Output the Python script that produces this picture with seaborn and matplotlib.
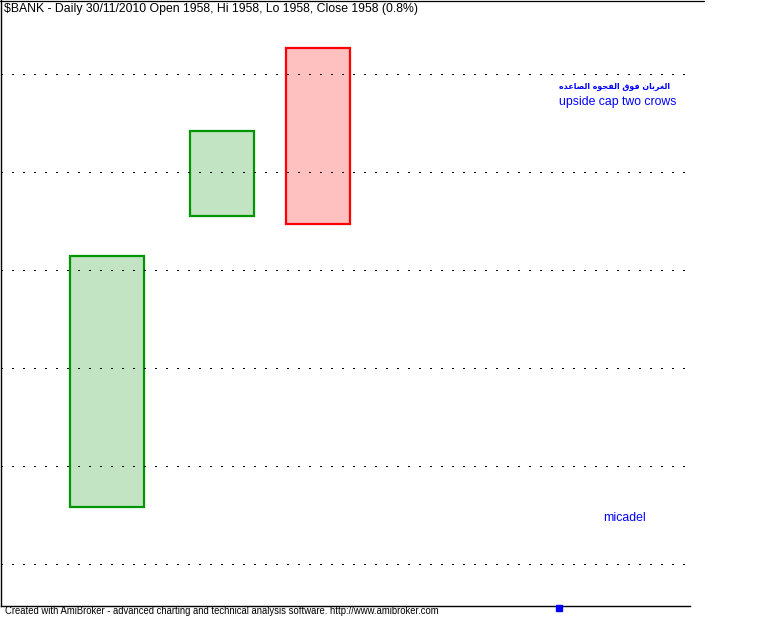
import matplotlib.pyplot as plt
import seaborn as sns
from matplotlib.lines import Line2D

# --- candle data (bar slot position, open, close) ---
bar_x = [1.105, 2.30, 3.30]
bar_open = [1905.8, 1935.5, 1952.7]
bar_close = [1931.4, 1944.2, 1934.7]
bar_width = [0.78, 0.67, 0.67]
grid_levels = [1900, 1910, 1920, 1930, 1940, 1950]
marker_x = [5.82]

title = "$BANK - Daily 30/11/2010 Open 1958, Hi 1958, Lo 1958, Close 1958 (0.8%)"
arabic_label = "الغربان فوق الفجوه الصاعده"
english_label = "upside cap two crows"
author_label = "micadel"
footer = ("Created with AmiBroker - advanced charting and technical analysis "
          "software. http://www.amibroker.com")

# matplotlib has no arabic shaping -> map letters to presentation forms
# (isolated, final, initial, medial); None = letter does not join to the left
FORMS = {
    "\u0627": ("\uFE8D", "\uFE8E", None, None),
    "\u0628": ("\uFE8F", "\uFE90", "\uFE91", "\uFE92"),
    "\u062C": ("\uFE9D", "\uFE9E", "\uFE9F", "\uFEA0"),
    "\u062F": ("\uFEA9", "\uFEAA", None, None),
    "\u0631": ("\uFEAD", "\uFEAE", None, None),
    "\u0635": ("\uFEB9", "\uFEBA", "\uFEBB", "\uFEBC"),
    "\u0639": ("\uFEC9", "\uFECA", "\uFECB", "\uFECC"),
    "\u063A": ("\uFECD", "\uFECE", "\uFECF", "\uFED0"),
    "\u0641": ("\uFED1", "\uFED2", "\uFED3", "\uFED4"),
    "\u0642": ("\uFED5", "\uFED6", "\uFED7", "\uFED8"),
    "\u0644": ("\uFEDD", "\uFEDE", "\uFEDF", "\uFEE0"),
    "\u0646": ("\uFEE5", "\uFEE6", "\uFEE7", "\uFEE8"),
    "\u0647": ("\uFEE9", "\uFEEA", "\uFEEB", "\uFEEC"),
    "\u0648": ("\uFEED", "\uFEEE", None, None),
}


def shape_arabic(s):
    out = []
    for i, ch in enumerate(s):
        if ch not in FORMS:
            out.append(ch)
            continue
        prev = s[i - 1] if i > 0 else ""
        nxt = s[i + 1] if i + 1 < len(s) else ""
        f = FORMS[ch]
        join_prev = prev in FORMS and FORMS[prev][2] is not None
        join_next = f[2] is not None and nxt in FORMS
        if join_prev and join_next:
            out.append(f[3])
        elif join_prev:
            out.append(f[1])
        elif join_next:
            out.append(f[2])
        else:
            out.append(f[0])
    return "".join(reversed(out))


sns.set_theme(style="white")
plt.rcParams["font.family"] = ["Liberation Sans", "DejaVu Sans"]

fig = plt.figure(figsize=(7.64, 6.18), dpi=100)
ax = fig.add_axes([1 / 764, 12 / 618, 689 / 764, 606 / 618])

up_edge, up_fill = "#009600", "#c2e4c2"
dn_edge, dn_fill = "#ff0000", "#ffc0c0"

for x, o, c, w in zip(bar_x, bar_open, bar_close, bar_width):
    up = c >= o
    ax.bar(x, abs(c - o), bottom=min(o, c), width=w,
           color=up_fill if up else dn_fill,
           edgecolor=up_edge if up else dn_edge,
           linewidth=1.6, zorder=2)

for lvl in grid_levels:
    ax.axhline(lvl, color="black", linewidth=0.75, antialiased=False,
               linestyle=(0, (1.4, 9.3)), zorder=3)

ax.set_xlim(0, 7.18)
ax.set_ylim(1895.7, 1957.55)
ax.set_xticks([])
ax.set_yticks([])
sns.despine(ax=ax, top=True, right=True)
for side in ["left", "bottom"]:
    ax.spines[side].set_color("black")
    ax.spines[side].set_linewidth(1.0)

ax.plot(marker_x, [1895.5], marker="s", markersize=4.5, color="#0000ff",
        linestyle="none", clip_on=False, zorder=5)

# top frame line runs a bit past the plot area
fig.add_artist(Line2D([0, 704 / 764], [1 - 0.5 / 618, 1 - 0.5 / 618],
                      color="black", linewidth=0.9))

fig.text(4 / 764, 1 - 9 / 618, title, fontsize=8.85, color="black",
         va="center", ha="left")

ax.text(5.81, 1948.7, shape_arabic(arabic_label), fontsize=5.7,
        color="#0000ff", family=["DejaVu Sans"], ha="left", va="center",
        fontweight="bold")
ax.text(5.81, 1947.1, english_label, fontsize=8.8, color="#0000ff",
        ha="left", va="center")
ax.text(6.27, 1904.7, author_label, fontsize=8.8, color="#0000ff",
        ha="left", va="center")

fig.text(5 / 764, 1 - 611 / 618, footer, fontsize=6.85, color="black",
         va="center", ha="left")

fig.savefig("out.png", dpi=100, facecolor="white")
